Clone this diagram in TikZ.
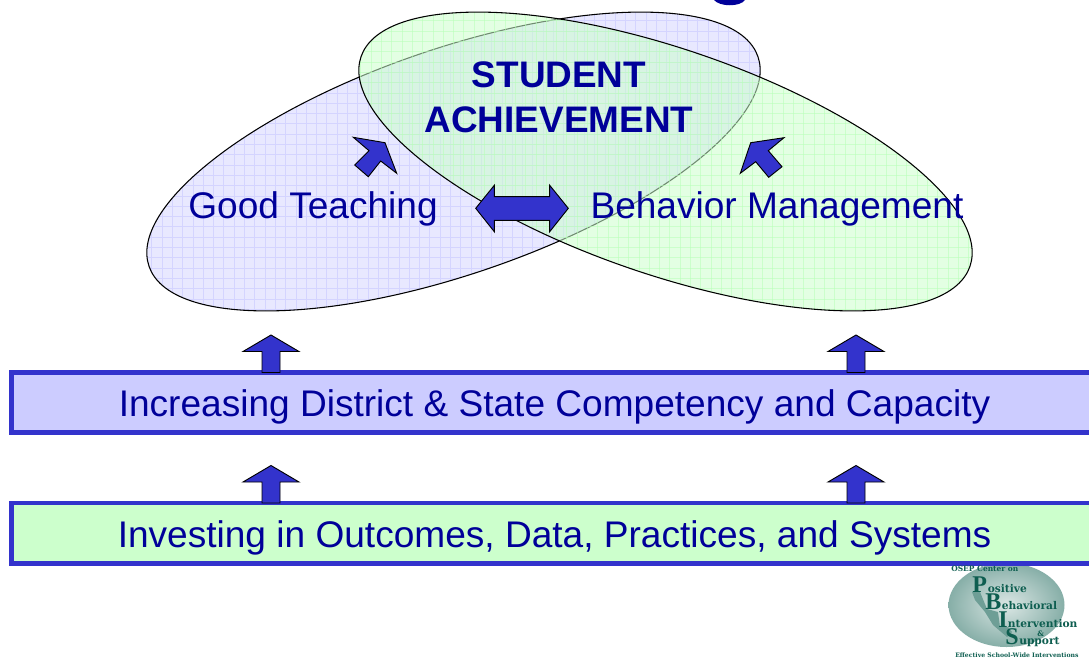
\documentclass[tikz,border=0pt]{standalone}
\usepackage{fontspec}
\setmainfont{Liberation Sans}
\newfontfamily\logofont{Liberation Serif}
\newfontfamily\logosmall{DejaVu Serif}
\definecolor{navy}{HTML}{000099}
\definecolor{arrowblue}{HTML}{3333CC}
\definecolor{bandblue}{HTML}{CCCCFF}
\definecolor{bandgreen}{HTML}{CCFFCC}
\definecolor{gridgreen}{HTML}{B8FFB8}
\definecolor{logoteal}{HTML}{0E5E50}
\tikzset{
  x=0.75pt,y=-0.75pt,
  bigtext/.style={font=\fontsize{27.8}{32}\selectfont,text=navy,inner sep=0pt,anchor=base},
  titletext/.style={font=\fontsize{27.7}{33.5}\selectfont\bfseries,text=navy,align=center,inner sep=0pt},
  band/.style={draw=arrowblue,line width=3.4pt},
  fatarrow/.style={fill=arrowblue,draw=black,line width=0.7pt,line join=miter},
  logotext/.style={font=\logosmall\bfseries\fontsize{8}{9}\selectfont,text=logoteal,inner sep=0pt,anchor=base west},
  logotiny/.style={font=\logosmall\bfseries\fontsize{5.6}{7}\selectfont,text=logoteal,inner sep=0pt,anchor=base west},
  logocap/.style={font=\logofont\bfseries\fontsize{18}{19}\selectfont,text=logoteal,inner sep=0pt,anchor=base west},
}
\newcommand{\upfat}[2]{%
  \draw[fatarrow] (#1-28,#2+16.5) -- (#1,#2) -- (#1+28,#2+16.5) -- (#1+9,#2+16.5) -- (#1+9,#2+37.5) -- (#1-9,#2+37.5) -- (#1-9,#2+16.5) -- cycle;}
\begin{document}
\begin{tikzpicture}
\useasboundingbox (0,0) rectangle (1089,657);
\fill[white] (0,0) rectangle (1089,657);
% title descender fragment
\fill[navy] (714,0) -- (745,0) .. controls (740,7) and (720,7) .. (714,0) -- cycle;
% blue ellipse
\begin{scope}
  \clip[rotate around={19:(453.5,161.5)}] (453.5,161.5) ellipse [x radius=322,y radius=112.6];
  \fill[fill=bandblue!45!white] (100,0) rectangle (800,330);
  \foreach \i in {0,...,70} {\draw[bandblue!85!white,line width=0.3pt] (100+\i*10.3,0) -- (100+\i*10.3,330);}
  \foreach \i in {0,...,33} {\draw[bandblue!85!white,line width=0.3pt] (100,\i*10.3) -- (800,\i*10.3);}
\end{scope}
\draw[black,line width=0.8pt,rotate around={19:(453.5,161.5)}] (453.5,161.5) ellipse [x radius=322,y radius=112.6];
% green ellipse
\begin{scope}[opacity=0.55]
  \clip[rotate around={-19:(665.5,161.5)}] (665.5,161.5) ellipse [x radius=322,y radius=112.6];
  \fill[fill=bandgreen] (340,0) rectangle (990,330);
  \foreach \i in {0,...,65} {\draw[gridgreen,line width=0.3pt] (340+\i*10.3,0) -- (340+\i*10.3,330);}
  \foreach \i in {0,...,33} {\draw[gridgreen,line width=0.3pt] (340,\i*10.3) -- (990,\i*10.3);}
\end{scope}
% outline of green ellipse, solid black
\draw[black,line width=0.8pt,rotate around={-19:(665.5,161.5)}] (665.5,161.5) ellipse [x radius=322,y radius=112.6];
% labels
\node[titletext] (title) at (559,97) {STUDENT\\ACHIEVEMENT};
\node[bigtext] (teach) at (313,218) {Good Teaching};
\node[bigtext] (behav) at (777,218) {Behavior Management};
% diagonal arrows
\draw[fatarrow] (353.3,137.3) -- (385,142.7) -- (396.7,173.3) -- (380.7,161) -- (368.3,176.7) -- (354.7,165) -- (369,150.7) -- cycle;
\draw[fatarrow] (784,137.7) -- (750.7,142.7) -- (740.3,173.3) -- (755.7,161.7) -- (768.7,177.3) -- (782,166.7) -- (768.3,150.7) -- cycle;
% double arrow
\draw[fatarrow] (475.7,208.3) -- (494.3,185.3) -- (494.3,196.7) -- (549.7,196.7) -- (549.7,185.3) -- (568.3,208.3) -- (549.7,231.7) -- (549.7,220.3) -- (494.3,220.3) -- (494.3,231.7) -- cycle;
% bands
\draw[band,fill=bandblue] (11.3,372.3) rectangle (1097,432.7);
\draw[band,fill=bandgreen] (11.3,503) rectangle (1097,563.5);
\upfat{271}{335}
\upfat{856}{335}
\upfat{271}{465.5}
\upfat{856}{465.5}
\node[bigtext] (cap) at (554.5,416) {Increasing District \& State Competency and Capacity};
\node[bigtext] (inv) at (554.5,547) {Investing in Outcomes, Data, Practices, and Systems};
% logo
\begin{scope}
\clip (940,566) rectangle (1089,657);
\shade[inner color=logoteal!15!white,outer color=logoteal!50!white] (1006.5,605) ellipse [x radius=58,y radius=42];
\end{scope}
\fill[logoteal!60!white] (972,592) -- (980,592) -- (987,609) -- (998,612) -- (1000,627) -- (1008,627) -- (1012,632) -- (1007,637) -- (993,625) -- (985,612) -- (975,600) -- cycle;
\node[logotiny] (l0) at (951,571) {OSEP Center on};
\node[logocap] (lp) at (972,592) {P};
\node[logotext] (l1) at (987.5,592) {ositive};
\node[logocap] (lb) at (985,609) {B};
\node[logotext] (l2) at (1001.5,609) {ehavioral};
\node[logocap] (li) at (998,627) {I};
\node[logotext] (l3) at (1007.5,627) {ntervention};
\node[logotiny] (l4) at (1037,636) {\&};
\node[logocap] (ls) at (1005,644) {S};
\node[logotext] (l5) at (1019,644) {upport};
\node[logotiny,font=\logosmall\bfseries\fontsize{4.6}{5}\selectfont] (l6) at (955,657.5) {Effective School-Wide Interventions};
\end{tikzpicture}
\end{document}
